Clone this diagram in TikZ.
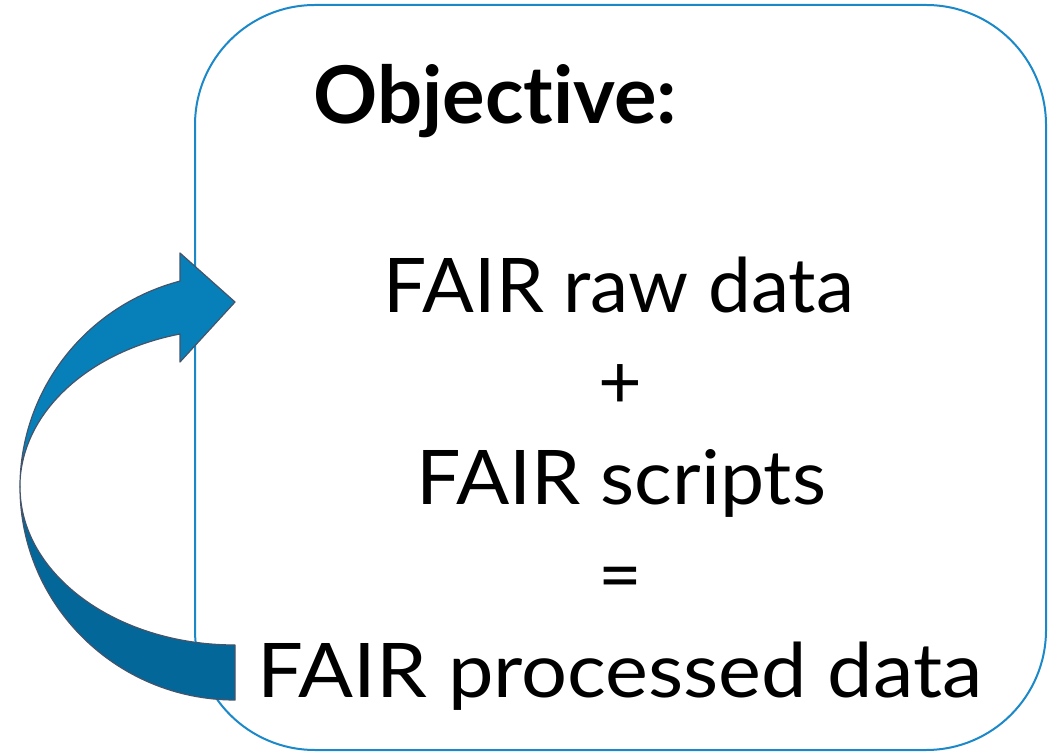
\documentclass[tikz,border=0pt]{standalone}
\usepackage{fontspec}
\setmainfont{Lato}[Ligatures=NoCommon]
\usetikzlibrary{positioning}
\definecolor{boxblue}{HTML}{1A88C9}
\definecolor{arrowlight}{HTML}{0780BA}
\definecolor{arrowdark}{HTML}{04679A}
\definecolor{arrowline}{HTML}{44546A}
\begin{document}
\begin{tikzpicture}[x=0.5pt,y=0.5pt]
    \tikzstyle{bignode} = [inner sep=0pt, anchor=base, font=\fontsize{37.7}{45}\selectfont]
    \tikzstyle{arrowpart} = [draw=arrowline, line width=0.6pt, line join=round]
    \useasboundingbox (0,0) rectangle (1048,755);
    % frame
    \node[draw=boxblue, line width=1pt, rounded corners=60pt, minimum width=425.5pt, minimum height=372.5pt, inner sep=0pt] (frame) at (620.5,377.5) {};

    % texts
    \node[font=\bfseries\fontsize{39.8}{48}\selectfont, anchor=base west, inner sep=0pt] (obj) at (313,631) {Objective:};
    \node[bignode, xscale=1.015, transform shape] (raw) at (619,442) {FAIR raw data};
    \node[bignode] (plus) at (620,346) {+};
    \node[bignode, xscale=1.044, transform shape] (scripts) at (621,250) {FAIR scripts};
    \node[bignode] (equal) at (620,154) {=};
    \node[bignode, xscale=1.077, transform shape] (proc) at (620,58) {FAIR processed data};

    % curved arrow
    \draw[arrowpart, fill=arrowdark] (235,55)
        arc[start angle=-90, end angle=-180, x radius=215, y radius=213]
        arc[start angle=180, end angle=270, x radius=215, y radius=158] -- cycle;
    \draw[arrowpart, fill=arrowlight] (20,268)
        arc[start angle=180, end angle=104.8, x radius=215, y radius=213]
        -- (180,502) -- (235,453) -- (180,393) -- (180,421)
        arc[start angle=104.8, end angle=180, x radius=215, y radius=158] -- cycle;
\end{tikzpicture}
\end{document}
